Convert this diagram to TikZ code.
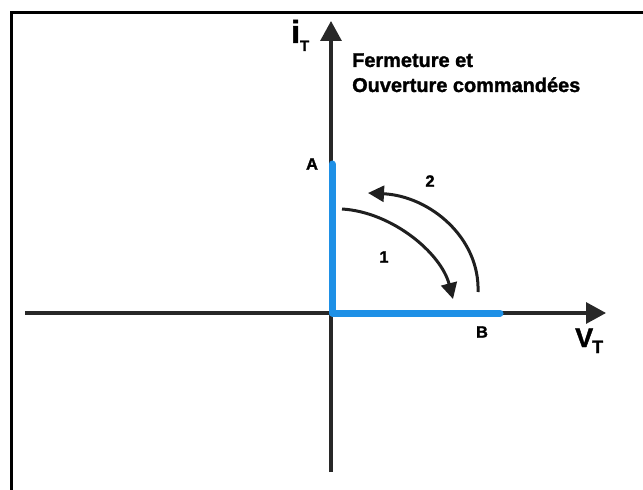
\documentclass[tikz,border=0pt]{standalone}
\usepackage{fontspec}
\setmainfont{Liberation Sans}[BoldFeatures={FakeBold=1.5}]
\usetikzlibrary{arrows.meta}
\definecolor{axisgray}{RGB}{40,40,40}
\definecolor{curveblue}{RGB}{30,144,230}
\begin{document}
\begin{tikzpicture}[x=1bp,y=-1bp,
  axis/.style={draw=axisgray,line width=3.2bp,-{Triangle[length=20bp,width=21bp]}},
  cyclearrow/.style={draw=black!88,line width=3bp,-{Triangle[length=16bp,width=16bp]}},
  bluepath/.style={draw=curveblue,line width=7bp,line join=round,line cap=round},
  lbl/.style={font=\bfseries\fontsize{16.5}{18}\selectfont,inner sep=0pt},
  titletext/.style={font=\bfseries\fontsize{20}{22}\selectfont,inner sep=0pt,anchor=base west}]
\useasboundingbox (0,0) rectangle (643,490);
% frame (top and left only)
\coordinate (ftl) at (11.5,12.5);
\coordinate (ftr) at (643,12.5);
\coordinate (fbl) at (11.5,490);
\draw[black,line width=2.4bp] (ftr) -- (ftl) -- (fbl);
% axes
\coordinate (O) at (331,313);
\coordinate (xl) at (25,313);
\coordinate (xr) at (606,313);
\coordinate (yb) at (331,472);
\coordinate (yt) at (331,21);
\draw[axis] (xl) -- (xr);
\draw[axis] (yb) -- (yt);
% blue characteristic
\coordinate (Apt) at (332,164);
\coordinate (Bpt) at (500,313);
\draw[bluepath] (Apt) -- (332,313) -- (Bpt);
% cycle arrows
\coordinate (s1) at (342,209);
\coordinate (e1) at (453,299);
\draw[cyclearrow] (s1) .. controls (392,212) and (441,253) .. (e1);
\coordinate (s2) at (478,292);
\coordinate (e2) at (368,193);
\draw[cyclearrow] (s2) .. controls (480,238) and (430,196) .. (e2);
% labels
\node[lbl] (A) at (312,164) {A};
\node[lbl] (B) at (482,332) {B};
\node[lbl] (n1) at (384,257) {1};
\node[lbl] (n2) at (430,181) {2};
\node[inner sep=0pt,anchor=base west] (iT) at (291,43)
  {\bfseries\fontsize{32}{32}\selectfont i\raisebox{-8bp}{\fontsize{15}{15}\selectfont T}};
\node[inner sep=0pt,anchor=base west] (VT) at (575,347)
  {\bfseries\fontsize{27}{27}\selectfont V\kern-1bp\raisebox{-6bp}{\fontsize{18}{18}\selectfont T}};
\node[titletext] (t1) at (352,67) {Fermeture et};
\node[titletext] (t2) at (352,92) {Ouverture commandées};
\end{tikzpicture}
\end{document}
